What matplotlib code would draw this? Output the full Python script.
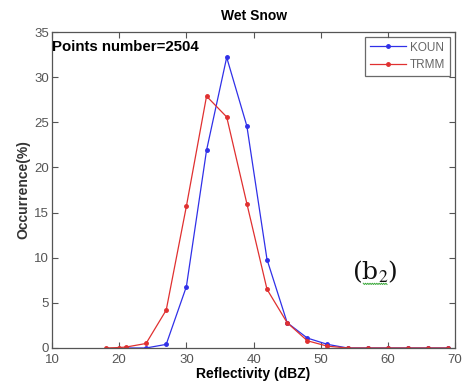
import matplotlib
matplotlib.use("Agg")
import matplotlib.pyplot as plt
import numpy as np

plt.rcParams['font.family'] = ['Liberation Sans', 'DejaVu Sans']
plt.rcParams['mathtext.fontset'] = 'stix'

# reflectivity bins (dBZ) and occurrence (%)
koun_x = [21, 24, 27, 30, 33, 36, 39, 42, 45, 48, 51, 54, 57, 60, 63, 66, 69]
koun_y = [0, 0, 0.4, 6.8, 21.9, 32.2, 24.6, 9.8, 2.8, 1.1, 0.4, 0, 0, 0, 0, 0, 0]
trmm_x = [18, 20, 21, 24, 27, 30, 33, 36, 39, 42, 45, 48, 51, 54, 57, 60, 63, 66, 69]
trmm_y = [0, 0.05, 0.1, 0.5, 4.2, 15.7, 27.9, 25.6, 16.0, 6.5, 2.8, 0.8, 0.2, 0, 0, 0, 0, 0, 0]
n_points = 2504

fig = plt.figure(figsize=(4.64, 3.87), dpi=100)
ax = fig.add_axes([0.112, 0.1008, 0.869, 0.8162])

ax.plot(koun_x, koun_y, color='#3030e8', lw=0.9, marker='.', ms=5, label='KOUN')
ax.plot(trmm_x, trmm_y, color='#e03030', lw=0.9, marker='.', ms=5, label='TRMM')

ax.set_xlim(10, 70)
ax.set_ylim(0, 35)
ax.set_xticks(np.arange(10, 71, 10))
ax.set_yticks(np.arange(0, 36, 5))
ax.tick_params(direction='in', top=True, right=True, length=4, width=0.8,
               labelsize=9.5, labelcolor='#555555', color='#555555')
ax.tick_params(axis='x', pad=4)
ax.tick_params(axis='y', pad=2)
for s in ax.spines.values():
    s.set_color('#555555')
    s.set_linewidth(0.9)

ax.set_title('Wet Snow', fontsize=10, fontweight='bold', pad=9)
ax.set_xlabel('Reflectivity (dBZ)', fontsize=10, fontweight='bold', labelpad=1)
ax.set_ylabel('Occurrence(%)', fontsize=10, fontweight='bold', labelpad=3, color='#333333')

ax.text(0.0, 0.953, 'Points number=%d' % n_points, transform=ax.transAxes,
        fontsize=10.8, fontweight='bold', va='center', ha='left')

leg = ax.legend(loc='upper right', fontsize=8.5, frameon=True, fancybox=False,
                handlelength=3.0, borderpad=0.4, labelspacing=0.5, handletextpad=0.4,
                borderaxespad=0.0, bbox_to_anchor=(0.988, 0.985))
leg.get_frame().set_edgecolor('#444444')
leg.get_frame().set_linewidth(0.9)
for t in leg.get_texts():
    t.set_color('#666666')

ax.text(58.0, 8.5, r'(b$_2$)', fontsize=18, family='DejaVu Serif',
        ha='center', va='center', color='#111111')
# green spell-check squiggle under the label
sq_x = np.linspace(0.772, 0.831, 22)
sq_y = 0.203 + 0.002 * (-1) ** np.arange(22)
ax.plot(sq_x, sq_y, transform=ax.transAxes, color='#3aa83a', lw=0.7)

fig.savefig('out.png', dpi=100)
